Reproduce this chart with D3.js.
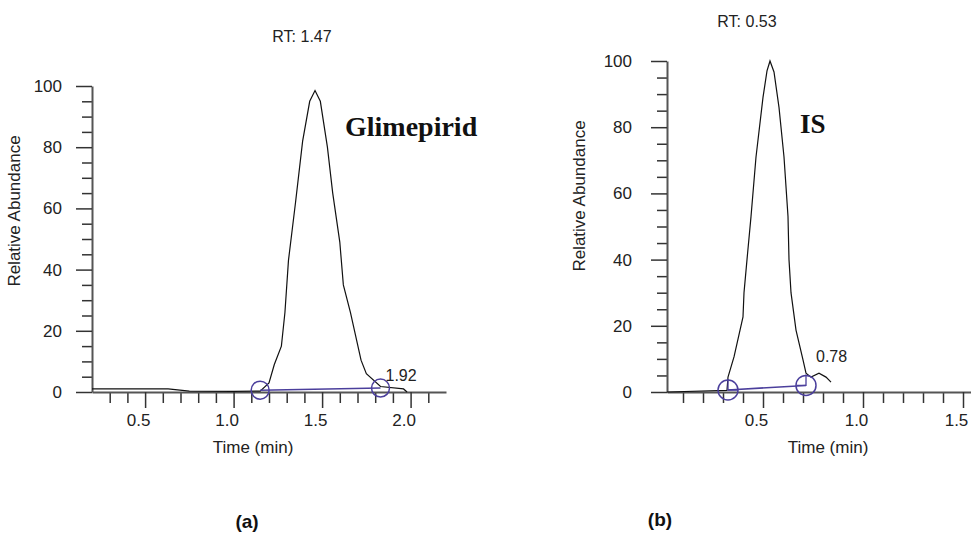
<!DOCTYPE html>
<html>
<head>
<meta charset="utf-8">
<script src="https://cdn.jsdelivr.net/npm/d3@7"></script>
<style>
  body { margin: 0; background: #fff; }
  svg { display: block; }
  text { font-family: "Liberation Sans", Arial, sans-serif; fill: #222; }
</style>
</head>
<body>
<div id="chart"></div>
<script>
// chromatogram (a) - Glimepirid
const timeA = [0.20, 0.63, 0.75, 1.00, 1.15, 1.20, 1.23, 1.27, 1.29, 1.31, 1.35, 1.39, 1.43, 1.46, 1.49, 1.53, 1.56, 1.60, 1.62, 1.66, 1.72, 1.75, 1.83, 1.96, 1.98];
const abundA = [1.0, 1.0, 0.3, 0.2, 0.3, 3, 9, 15, 26, 43, 62, 82, 95, 98.5, 95, 80, 65, 49, 35, 26, 10.4, 6, 1.8, 1.0, 0];
// chromatogram (b) - IS
const timeB = [0.02, 0.32, 0.325, 0.355, 0.40, 0.405, 0.42, 0.44, 0.465, 0.50, 0.52, 0.535, 0.555, 0.58, 0.605, 0.625, 0.63, 0.64, 0.665, 0.70, 0.715, 0.74, 0.78, 0.815, 0.84];
const abundB = [0, 0.5, 4.5, 10.6, 22.7, 30, 40, 53, 71, 89, 97, 100, 96.7, 86, 71, 53, 40, 30, 18.7, 9.7, 5.7, 4.5, 5.7, 4.5, 3];

// integration markers (start, end) and labels
const peakA = [[1.15, 0.6], [1.83, 1.3]];
const peakB = [[0.325, 0.6], [0.715, 2.0]];
const rtA = 'RT: 1.47', rtB = 'RT: 0.53';
const endLabelA = '1.92', endLabelB = '0.78';
const nameA = 'Glimepirid', nameB = 'IS';

const majorY = [0, 20, 40, 60, 80, 100];
const minorY = d3.range(5, 100, 5).filter((v) => v % 20 !== 0);
const majorXA = [0.5, 1.0, 1.5, 2.0];
const minorXA = [0.3, 0.4, 0.6, 0.7, 0.8, 0.9, 1.1, 1.2, 1.3, 1.4, 1.6, 1.7, 1.8, 1.9, 2.1];
const majorXB = [0.5, 1.0, 1.5];
const minorXB = [0.1, 0.2, 0.3, 0.4, 0.6, 0.7, 0.8, 0.9, 1.1, 1.2, 1.3, 1.4];

const width = 971, height = 536;
const purple = '#4b3f9c';
const svg = d3.select('#chart').append('svg').attr('width', width).attr('height', height);

function panel(opts) {
  const x = d3.scaleLinear().domain(opts.xDomain).range(opts.xRange);
  const y = d3.scaleLinear().domain([0, 100]).range(opts.yRange);
  const g = svg.append('g');

  // y axis, major + minor ticks
  g.append('g').attr('transform', `translate(${opts.xRange[0]},0)`)
    .call(d3.axisLeft(y).tickValues(minorY).tickSize(10).tickFormat('').tickSizeOuter(0))
    .call((a) => a.select('.domain').remove());
  g.append('g').attr('transform', `translate(${opts.xRange[0]},0)`)
    .call(d3.axisLeft(y).tickValues(majorY).tickSize(16).tickPadding(opts.yPad).tickSizeOuter(0))
    .call((a) => a.selectAll('text').style('font-size', '17px'));

  // x axis
  g.append('g').attr('transform', `translate(0,${y(0)})`)
    .call(d3.axisBottom(x).tickValues(opts.minorX).tickSize(11).tickFormat('').tickSizeOuter(0))
    .call((a) => a.select('.domain').remove());
  g.append('g').attr('transform', `translate(0,${y(0)})`)
    .call(d3.axisBottom(x).tickValues(opts.majorX).tickSize(16).tickPadding(6).tickFormat(d3.format('.1f')).tickSizeOuter(0))
    .call((a) => a.selectAll('text').style('font-size', '17px').attr('dx', -7));

  g.selectAll('.domain').attr('stroke', '#555').attr('stroke-width', 2);
  g.selectAll('.tick line').attr('stroke', '#333').attr('stroke-width', 1.5);

  // trace
  const pts = opts.time.map((t, i) => [t, opts.abund[i]]);
  g.append('path')
    .datum(pts)
    .attr('fill', 'none')
    .attr('stroke', '#111')
    .attr('stroke-width', 1.2)
    .attr('d', d3.line().x((d) => x(d[0])).y((d) => y(d[1])));

  // integration baseline and markers
  g.append('line')
    .attr('x1', x(opts.peak[0][0])).attr('y1', y(opts.peak[0][1]))
    .attr('x2', x(opts.peak[1][0])).attr('y2', y(opts.peak[1][1]))
    .attr('stroke', purple).attr('stroke-width', 1.5);
  g.selectAll('circle.m').data(opts.peak).enter().append('circle')
    .attr('cx', (d) => x(d[0])).attr('cy', (d) => y(d[1]))
    .attr('r', opts.r)
    .attr('fill', 'none').attr('stroke', purple).attr('stroke-width', 1.5);
  if (opts.ticksInCircle) {
    const [s, e] = opts.peak;
    g.append('path').attr('fill', 'none').attr('stroke', purple).attr('stroke-width', 1.3)
      .attr('d', `M${x(s[0])},${y(s[1]) - 11}V${y(s[1])}h10`);
    g.append('path').attr('fill', 'none').attr('stroke', purple).attr('stroke-width', 1.3)
      .attr('d', `M${x(e[0])},${y(e[1]) - 11}V${y(e[1])}h-9`);
  }

  g.append('text')
    .attr('x', x(opts.peak[1][0]) + opts.labelOff[0])
    .attr('y', y(opts.peak[1][1]) + opts.labelOff[1])
    .style('font-size', '16px')
    .text(opts.endLabel);

  // RT label
  g.append('text')
    .attr('x', opts.rtPos[0]).attr('y', opts.rtPos[1])
    .attr('text-anchor', 'middle')
    .style('font-size', '16px')
    .text(opts.rt);

  // compound name
  g.append('text')
    .attr('x', opts.namePos[0]).attr('y', opts.namePos[1])
    .style('font-family', '"Liberation Serif", "Times New Roman", serif')
    .style('font-weight', 'bold')
    .style('font-size', opts.nameSize)
    .style('fill', '#111')
    .text(opts.name);

  // axis titles
  g.append('text')
    .attr('transform', `translate(${opts.yTitle[0]},${opts.yTitle[1]}) rotate(-90)`)
    .attr('text-anchor', 'middle')
    .style('font-size', '17px')
    .text('Relative Abundance');
  g.append('text')
    .attr('x', opts.xTitle[0]).attr('y', opts.xTitle[1])
    .attr('text-anchor', 'middle')
    .style('font-size', '17px')
    .text('Time (min)');

  // panel letter
  g.append('text')
    .attr('x', opts.letter[0]).attr('y', opts.letter[1])
    .attr('text-anchor', 'middle')
    .style('font-size', '19px')
    .style('font-weight', 'bold')
    .style('fill', '#111')
    .text(opts.letterText);
}

panel({
  time: timeA, abund: abundA, peak: peakA,
  xDomain: [0.2, 2.2], xRange: [92, 446], yRange: [392, 86],
  majorX: majorXA, minorX: minorXA, yPad: 14, r: 9,
  endLabel: endLabelA, labelOff: [5, -7],
  rt: rtA, rtPos: [302, 42],
  name: nameA, namePos: [345, 136], nameSize: '28px',
  yTitle: [20, 211], xTitle: [253, 453],
  letter: [247, 528], letterText: '(a)'
});

panel({
  time: timeB, abund: abundB, peak: peakB,
  xDomain: [0.02, 1.55], xRange: [667, 973], yRange: [392, 61],
  majorX: majorXB, minorX: minorXB, yPad: 19, r: 10, ticksInCircle: true,
  endLabel: endLabelB, labelOff: [10, -23],
  rt: rtB, rtPos: [747, 27],
  name: nameB, namePos: [800, 133], nameSize: '27px',
  yTitle: [585, 196], xTitle: [828, 453],
  letter: [660, 526], letterText: '(b)'
});
</script>
</body>
</html>
